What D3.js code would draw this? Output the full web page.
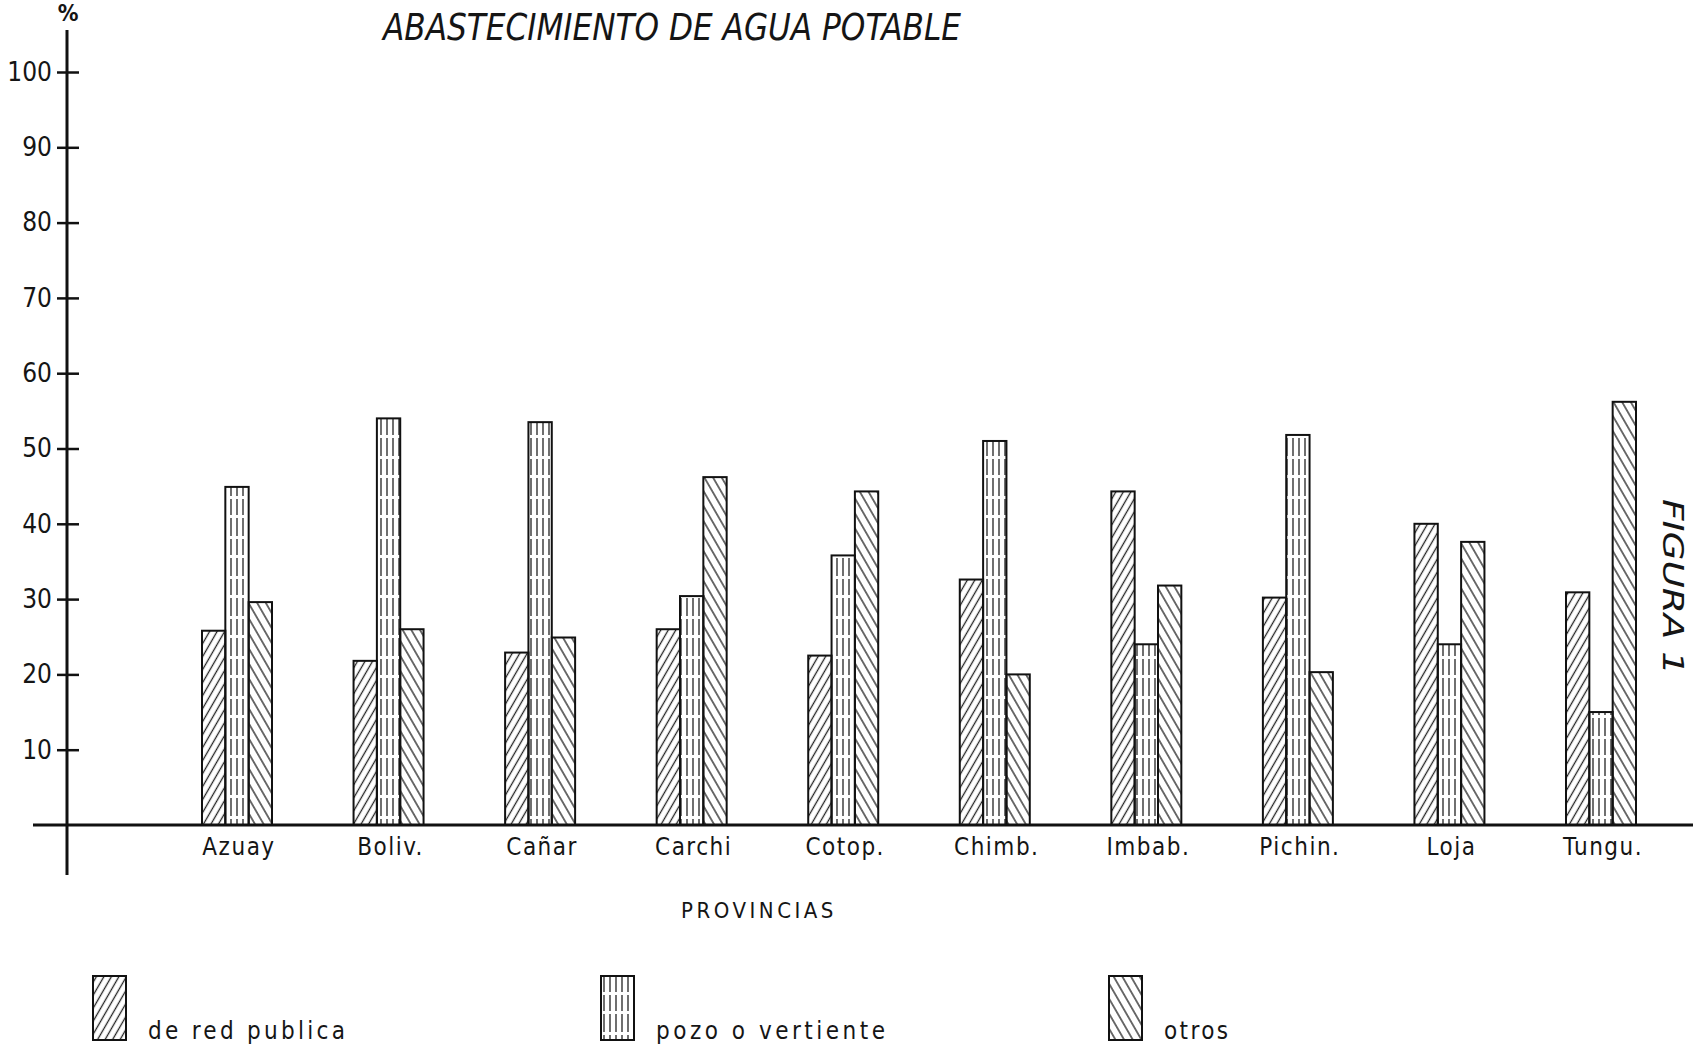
<!DOCTYPE html>
<html>
<head>
<meta charset="utf-8">
<script src="https://cdn.jsdelivr.net/npm/d3@7"></script>
<style>
body { margin: 0; background: #fff; }
svg { display: block; }
text { font-family: 'DejaVu Sans Condensed', 'DejaVu Sans', sans-serif; fill: #151515; }
</style>
</head>
<body>
<svg id="chart" width="1693" height="1052"></svg>
<script>
// Data (percent of households)
let provinces = ['Azuay', 'Boliv.', 'Cañar', 'Carchi', 'Cotop.', 'Chimb.', 'Imbab.', 'Pichin.', 'Loja', 'Tungu.'];
let redPublica = [25.8, 21.8, 22.9, 26.0, 22.5, 32.6, 44.3, 30.2, 40.0, 30.9];
let pozoVertiente = [44.9, 54.0, 53.5, 30.4, 35.8, 51.0, 24.0, 51.8, 24.0, 15.0];
let otros = [29.6, 26.0, 24.9, 46.2, 44.3, 20.0, 31.8, 20.3, 37.6, 56.2];
let seriesNames = ['de red publica', 'pozo o vertiente', 'otros'];
let yTicks = [10, 20, 30, 40, 50, 60, 70, 80, 90, 100];

let svg = d3.select('#chart');
let defs = svg.append('defs');

// Hatch patterns, one per series
let makeHatch = (id, angle, gap, dash) => {
    let p = defs.append('pattern')
        .attr('id', id)
        .attr('patternUnits', 'userSpaceOnUse')
        .attr('width', gap)
        .attr('height', 40)
        .attr('patternTransform', `rotate(${angle})`);
    p.append('line')
        .attr('x1', gap / 2).attr('y1', 0)
        .attr('x2', gap / 2).attr('y2', 40)
        .attr('stroke', '#222')
        .attr('stroke-width', 1.3)
        .attr('stroke-dasharray', dash);
};
makeHatch('hatch-red', 30, 6.5, null);
makeHatch('hatch-pozo', 0, 6, '16 3');
makeHatch('hatch-otros', -30, 7.5, null);
let fills = ['url(#hatch-red)', 'url(#hatch-pozo)', 'url(#hatch-otros)'];

// Scales
let axisX = 67;
let y = d3.scaleLinear().domain([0, 100]).range([825, 72]);
let x = d3.scalePoint().domain(provinces).range([237, 1601]);
let xs = d3.scaleBand().domain(seriesNames).range([-35, 35]);

// Bars
let series = [redPublica, pozoVertiente, otros];
let rows = provinces.flatMap((p, i) => seriesNames.map((s, j) => ({ p, s, j, v: series[j][i] })));

svg.append('g')
    .selectAll('rect')
    .data(rows)
    .enter()
    .append('rect')
    .attr('x', (d) => x(d.p) + xs(d.s))
    .attr('y', (d) => y(d.v))
    .attr('width', xs.bandwidth())
    .attr('height', (d) => y(0) - y(d.v))
    .attr('fill', (d) => fills[d.j])
    .attr('stroke', '#111')
    .attr('stroke-width', 2);

// Baseline and vertical axis
svg.append('line')
    .attr('x1', 33).attr('x2', 1693)
    .attr('y1', y(0)).attr('y2', y(0))
    .attr('stroke', '#111').attr('stroke-width', 3);

svg.append('line')
    .attr('x1', axisX).attr('x2', axisX)
    .attr('y1', 30).attr('y2', 875)
    .attr('stroke', '#111').attr('stroke-width', 3);

let yAxis = svg.append('g')
    .attr('transform', `translate(${axisX},0)`)
    .call(d3.axisLeft(y).tickValues(yTicks).tickSize(0).tickPadding(15));
yAxis.select('.domain').remove();
yAxis.attr('font-family', null).attr('font-size', 26);
yAxis.selectAll('.tick line')
    .attr('x1', -10).attr('x2', 12)
    .attr('stroke', '#111').attr('stroke-width', 2.5);
yAxis.selectAll('.tick text').attr('fill', '#151515');

svg.append('text')
    .attr('x', axisX + 1).attr('y', 21)
    .attr('text-anchor', 'middle')
    .attr('font-size', 23)
    .attr('font-weight', 'bold')
    .text('%');

// Category labels
svg.append('g')
    .selectAll('text')
    .data(provinces)
    .enter()
    .append('text')
    .attr('x', (d) => x(d) + 2)
    .attr('y', 855)
    .attr('text-anchor', 'middle')
    .attr('font-size', 24)
    .attr('letter-spacing', 1.5)
    .text((d) => d);

svg.append('text')
    .attr('x', 759).attr('y', 918)
    .attr('text-anchor', 'middle')
    .attr('font-size', 22)
    .attr('letter-spacing', 3.5)
    .text('PROVINCIAS');

// Title
svg.append('text')
    .attr('x', 383).attr('y', 40)
    .attr('font-size', 37)
    .attr('font-style', 'italic')
    .attr('textLength', 578)
    .attr('lengthAdjust', 'spacingAndGlyphs')
    .text('ABASTECIMIENTO DE AGUA POTABLE');

// Side caption, kept inside the page edge
svg.append('text')
    .attr('transform', 'translate(1663,499) rotate(90)')
    .attr('font-size', 29)
    .attr('font-style', 'italic')
    .attr('textLength', 176)
    .attr('lengthAdjust', 'spacingAndGlyphs')
    .text('FIGURA 1');

// Legend
let legendTextLen = [197, 229, 64];
let legend = svg.append('g')
    .selectAll('g')
    .data(seriesNames)
    .enter()
    .append('g')
    .attr('transform', (d, i) => `translate(${93 + i * 508},976)`);

legend.append('rect')
    .attr('width', 33)
    .attr('height', 64)
    .attr('fill', (d, i) => fills[i])
    .attr('stroke', '#111')
    .attr('stroke-width', 2);

legend.append('text')
    .attr('x', 55)
    .attr('y', 63)
    .attr('font-size', 24)
    .attr('textLength', (d, i) => legendTextLen[i])
    .attr('lengthAdjust', 'spacing')
    .text((d) => d);
</script>
</body>
</html>
